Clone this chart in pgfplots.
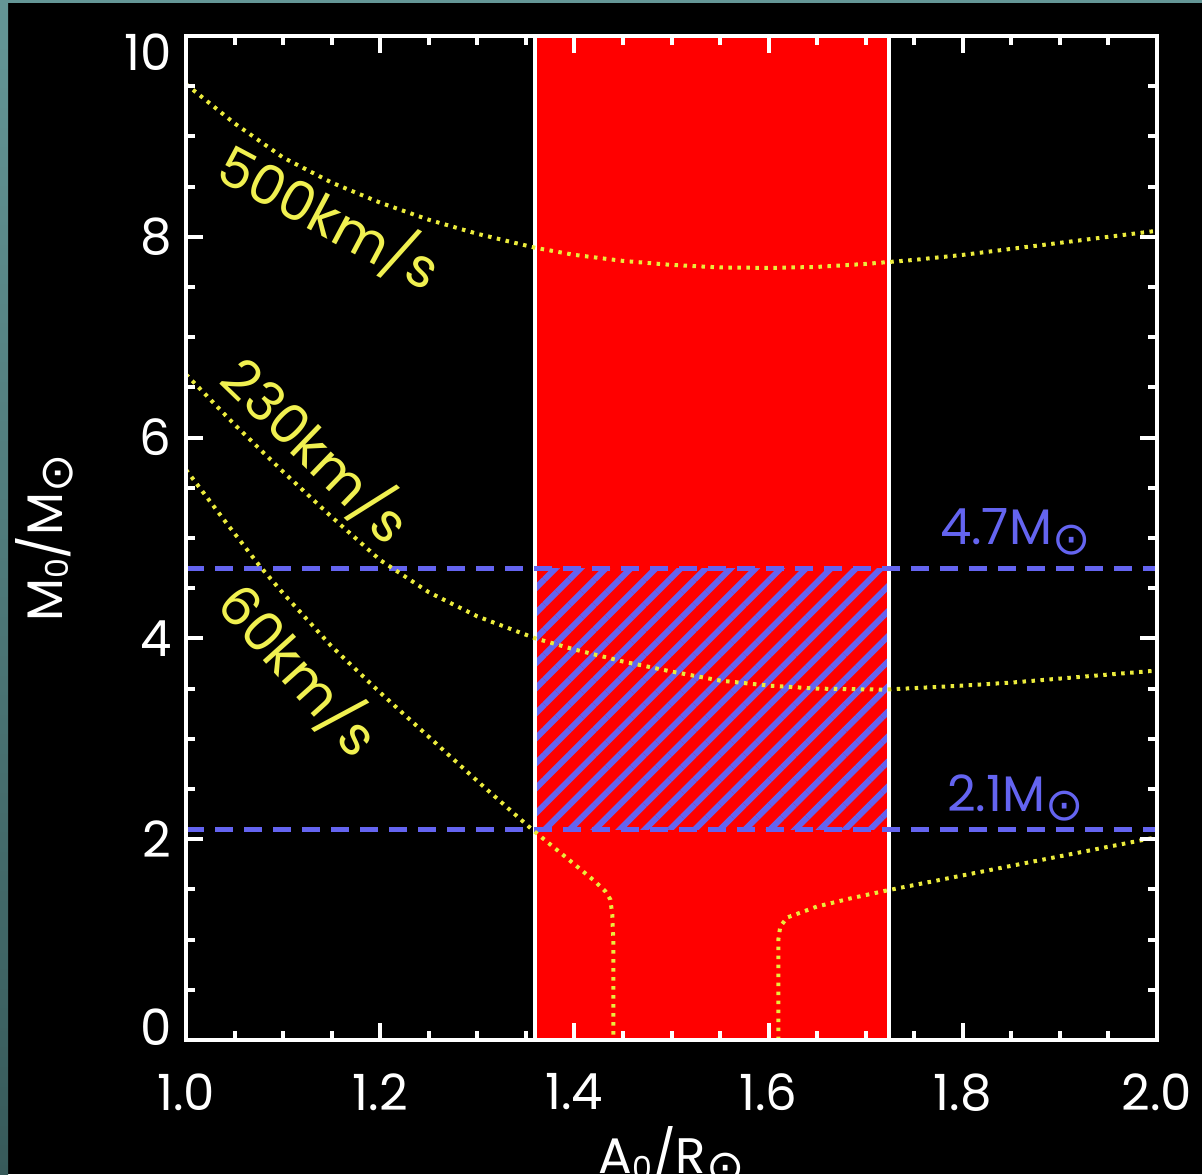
\documentclass[border=0pt]{standalone}
\usepackage{fontspec}
\setmainfont{Poppins}
\newfontfamily\symfont{DejaVu Sans}
\usepackage{pgfplots}
\pgfplotsset{compat=1.18}
\usetikzlibrary{patterns.meta}
\definecolor{redband}{RGB}{255,0,0}
\definecolor{hblue}{RGB}{100,100,240}
\definecolor{cyell}{RGB}{235,235,60}
\definecolor{tyell}{RGB}{240,240,80}
\definecolor{tealtop}{RGB}{100,150,150}
\definecolor{tealbot}{RGB}{55,90,90}
\newcommand\sun{\raisebox{-2.7pt}{\symfont\fontsize{13}{13}\selectfont ⊙}}
\newcommand\sub[1]{\raisebox{-0.12em}{\fontsize{9}{9}\selectfont #1}}
\newcommand\bigf{\fontsize{14.2}{17}\selectfont}
\begin{document}
\begin{tikzpicture}
\path[use as bounding box, clip] (0,0) rectangle (12.02,11.74);
\fill[black] (0,0) rectangle (12.02,11.74);
\shade[top color=tealtop, bottom color=tealbot] (0,0) rectangle (0.08,11.74);
\fill[tealtop] (0,11.71) rectangle (12.02,11.74);
\begin{axis}[
  at={(1.86cm,1.34cm)}, anchor=south west,
  scale only axis, width=9.71cm, height=10.04cm,
  xmin=1, xmax=2, ymin=0, ymax=10,
  xtick={1,1.2,1.4,1.6,1.8,2},
  ytick={0,2,4,6,8,10},
  yticklabels={\raisebox{0.13cm}[\height][\depth]{0},2,4,6,8,\raisebox{-0.16cm}[\height][\depth]{10}},
  minor x tick num=3, minor y tick num=3,
  xtick pos=both, ytick pos=both,
  xticklabel pos=lower, yticklabel pos=left,
  xticklabel style={/pgf/number format/fixed, /pgf/number format/fixed zerofill, /pgf/number format/precision=1, /pgf/number format/assume math mode=true, yshift=-0.21cm},
  yticklabel style={xshift=-0.02cm},
  every tick label/.append style={text=white, font=\bigf},
  axis line style={white, line width=0.045cm},
  tick style={white, line width=0.04cm},
  major tick length=0.17cm, minor tick length=0.09cm,
  axis on top,
  xlabel={A\sub{0}/R\sun},
  ylabel={M\sub{0}/M\sun},
  xlabel style={at={(axis description cs:0.5,-0.1325)}, anchor=base, inner sep=0pt, text=white, font=\bigf},
  ylabel style={at={(axis description cs:-0.1267,0.5)}, anchor=base, inner sep=0pt, text=white, font=\bigf},
]
% red band
\addplot[draw=none, fill=redband] coordinates {(1.359,0) (1.359,10) (1.724,10) (1.724,0) (1.359,0)};
% hatch
\addplot[draw=none, pattern={Lines[angle=45,distance=0.177cm,line width=0.06cm]}, pattern color=hblue]
  coordinates {(1.359,2.1) (1.359,4.7) (1.724,4.7) (1.724,2.1) (1.359,2.1)};
% white boundaries
\addplot[white, line width=0.04cm] coordinates {(1.359,0) (1.359,10)};
\addplot[white, line width=0.04cm] coordinates {(1.724,0) (1.724,10)};
% blue dashed limits
\addplot[hblue, line width=0.05cm, dash pattern=on 0.18cm off 0.11cm] coordinates {(1,4.7) (2,4.7)};
\addplot[hblue, line width=0.05cm, dash pattern=on 0.18cm off 0.11cm] coordinates {(1,2.1) (2,2.1)};
% 500 km/s
\addplot[cyell, line width=0.04cm, dash pattern=on 0.035cm off 0.055cm] coordinates {
(1.0,9.52) (1.05,9.13) (1.1,8.79) (1.15,8.54) (1.2,8.34) (1.25,8.17) (1.3,8.03) (1.36,7.89)
(1.4,7.82) (1.45,7.76) (1.5,7.72) (1.55,7.695) (1.6,7.69) (1.65,7.70) (1.7,7.73) (1.75,7.77)
(1.8,7.82) (1.85,7.88) (1.9,7.94) (1.95,8.00) (2.0,8.06)};
% 230 km/s
\addplot[cyell, line width=0.04cm, dash pattern=on 0.035cm off 0.055cm] coordinates {
(1.0,6.63) (1.05,6.13) (1.1,5.66) (1.15,5.21) (1.2,4.78) (1.25,4.46) (1.3,4.22) (1.36,4.00)
(1.4,3.89) (1.45,3.77) (1.5,3.67) (1.55,3.58) (1.6,3.53) (1.65,3.50) (1.72,3.49) (1.8,3.53)
(1.85,3.56) (1.9,3.60) (1.95,3.64) (2.0,3.68)};
% 60 km/s, left branch
\addplot[cyell, line width=0.04cm, dash pattern=on 0.035cm off 0.055cm] coordinates {
(1.0,5.68) (1.04,5.17) (1.076,4.72) (1.1,4.45) (1.15,3.92) (1.2,3.46) (1.25,3.02) (1.3,2.58)
(1.356,2.10) (1.39,1.83) (1.42,1.59) (1.432,1.48) (1.437,1.40) (1.439,1.25) (1.44,1.0) (1.44,0)};
% 60 km/s, right branch
\addplot[cyell, line width=0.04cm, dash pattern=on 0.035cm off 0.055cm] coordinates {
(1.61,0) (1.61,1.0) (1.612,1.13) (1.619,1.22) (1.65,1.33) (1.684,1.41) (1.722,1.49)
(1.8,1.64) (1.9,1.83) (2.0,2.02)};
% labels
\node[text=tyell, font=\fontsize{15.5}{18}\selectfont, rotate=-28] at (axis cs:1.148,8.20) {500km/s};
\node[text=tyell, font=\fontsize{15.5}{18}\selectfont, rotate=-44] at (axis cs:1.135,5.88) {230km/s};
\node[text=tyell, font=\fontsize{15.5}{18}\selectfont, rotate=-48] at (axis cs:1.117,3.69) {60km/s};
\node[text=hblue, font=\bigf] at (axis cs:1.854,5.06) {4.7M\sun};
\node[text=hblue, font=\bigf] at (axis cs:1.854,2.41) {2.1M\sun};
\end{axis}
\end{tikzpicture}
\end{document}
